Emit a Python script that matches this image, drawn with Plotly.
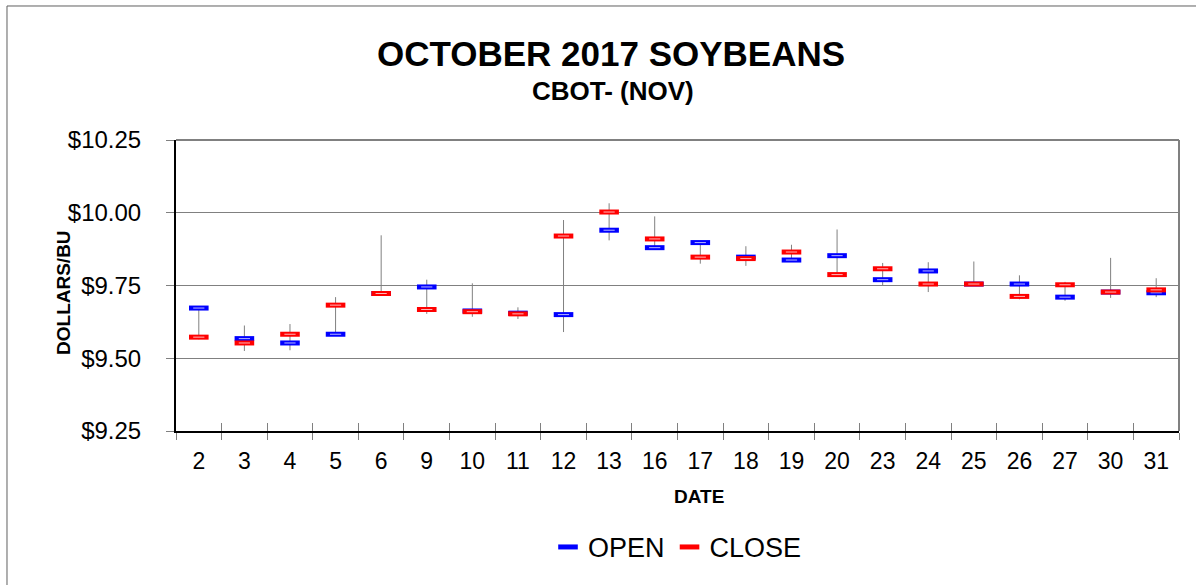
import plotly.graph_objects as go

# October 2017 CBOT November soybean futures, daily prices ($/bu)
dates = ["2", "3", "4", "5", "6", "9", "10", "11", "12", "13", "16",
         "17", "18", "19", "20", "23", "24", "25", "26", "27", "30", "31"]
open_px = [9.6725, 9.5675, 9.5525, 9.5825, 9.7225, 9.7450, 9.6625, 9.6550,
           9.6500, 9.9400, 9.8800, 9.8975, 9.8475, 9.8375, 9.8525, 9.7700,
           9.8000, 9.7550, 9.7550, 9.7100, 9.7275, 9.7250]
close_px = [9.5725, 9.5525, 9.5825, 9.6825, 9.7225, 9.6675, 9.6600, 9.6525,
            9.9200, 10.0025, 9.9100, 9.8475, 9.8425, 9.8650, 9.7875, 9.8075,
            9.7550, 9.7550, 9.7125, 9.7525, 9.7275, 9.7350]
high_px = [9.6725, 9.6125, 9.6175, 9.7100, 9.9225, 9.7700, 9.7575, 9.6750,
           9.9750, 10.0325, 9.9875, 9.8975, 9.8850, 9.8900, 9.9425, 9.8275,
           9.8300, 9.8325, 9.7850, 9.7625, 9.8450, 9.7750]
low_px = [9.5650, 9.5250, 9.5275, 9.5825, 9.7200, 9.6525, 9.6425, 9.6350,
          9.5900, 9.9050, 9.8800, 9.8250, 9.8175, 9.8375, 9.7875, 9.7500,
          9.7275, 9.7500, 9.7025, 9.6975, 9.7075, 9.7100]
y_ticks = [9.25, 9.50, 9.75, 10.00, 10.25]
y_tick_text = ["$9.25", "$9.50", "$9.75", "$10.00", "$10.25"]

FONT = "Arial, Liberation Sans, sans-serif"
BLUE = "#0000FF"
RED = "#FF0000"

# high-low range whiskers
wx, wy = [], []
for d, lo, hi in zip(dates, low_px, high_px):
    wx += [d, d, None]
    wy += [lo, hi, None]

fig = go.Figure()
fig.add_trace(go.Scatter(
    x=wx, y=wy, mode="lines", line=dict(color="#808080", width=1),
    showlegend=False, hoverinfo="skip"))


def tick_marks(name, values, color, inner):
    fig.add_trace(go.Scatter(
        x=dates, y=values, mode="markers", name=name,
        marker=dict(symbol="line-ew", size=14,
                    line=dict(color=color, width=5))))
    fig.add_trace(go.Scatter(
        x=dates, y=values, mode="markers", showlegend=False,
        hoverinfo="skip",
        marker=dict(symbol="line-ew", size=8,
                    line=dict(color=inner, width=1))))


tick_marks("OPEN", open_px, BLUE, "#b8b8ff")
tick_marks("CLOSE", close_px, RED, "#ffb8b8")

# a second x axis carries the tick marks that reach inside the frame
fig.add_trace(go.Scatter(x=dates, y=close_px, xaxis="x2", mode="markers",
                         marker=dict(opacity=0), showlegend=False,
                         hoverinfo="skip"))

fig.update_layout(
    width=1196, height=585,
    margin=dict(l=176, r=17, t=140, b=154),
    paper_bgcolor="white", plot_bgcolor="white",
    font=dict(family=FONT, color="black"),
    xaxis=dict(
        type="category", categoryorder="array", categoryarray=dates,
        range=[-0.5, len(dates) - 0.5],
        tickson="boundaries", ticks="outside", ticklen=7, tickwidth=1,
        tickcolor="#808080",
        showline=True, linecolor="black", linewidth=2,
        showgrid=False, zeroline=False,
        tickfont=dict(size=23), ticklabelstandoff=8),
    xaxis2=dict(
        type="category", categoryorder="array", categoryarray=dates,
        range=[-0.5, len(dates) - 0.5], overlaying="x", side="bottom",
        tickson="boundaries", ticks="inside", ticklen=8, tickwidth=1,
        tickcolor="#808080", showticklabels=False,
        showline=False, showgrid=False, zeroline=False),
    yaxis=dict(
        range=[9.25, 10.25], tickvals=y_ticks, ticktext=y_tick_text,
        ticks="outside", ticklen=8, tickwidth=1, tickcolor="#808080",
        showline=True, linecolor="black", linewidth=2,
        showgrid=True, gridcolor="#808080", gridwidth=1, zeroline=False,
        tickfont=dict(size=24), ticklabelstandoff=20),
    legend=dict(
        orientation="h", x=0.50, xanchor="center", y=-0.40, yanchor="middle",
        font=dict(size=27), itemwidth=30, bgcolor="rgba(0,0,0,0)"),
    shapes=[
        # top and right edges of the plot frame
        dict(type="line", xref="paper", yref="paper", x0=0, x1=1, y0=1, y1=1,
             line=dict(color="#808080", width=2)),
        dict(type="line", xref="paper", yref="paper", x0=1, x1=1, y0=0, y1=1,
             line=dict(color="#808080", width=2)),
        # chart border
        dict(type="rect", xref="paper", yref="paper",
             x0=-0.1685, x1=1.05, y0=-0.56, y1=1.4605,
             line=dict(color="#606060", width=1), layer="below"),
    ],
    annotations=[
        dict(text="<b>OCTOBER 2017 SOYBEANS</b>", xref="paper", yref="paper",
             x=0.4337, y=1.2966, xanchor="center", yanchor="middle",
             showarrow=False, font=dict(size=35)),
        dict(text="<b>CBOT- (NOV)</b>", xref="paper", yref="paper",
             x=0.4357, y=1.169, xanchor="center", yanchor="middle",
             showarrow=False, font=dict(size=26)),
        dict(text="<b>DATE</b>", xref="paper", yref="paper",
             x=0.5214, y=-0.2258, xanchor="center", yanchor="middle",
             showarrow=False, font=dict(size=19)),
        dict(text="<b>DOLLARS/BU</b>", xref="paper", yref="paper",
             x=-0.1117, y=0.4777, xanchor="center", yanchor="middle",
             textangle=-90, showarrow=False, font=dict(size=19)),
    ],
)

fig.write_html("out.html")
